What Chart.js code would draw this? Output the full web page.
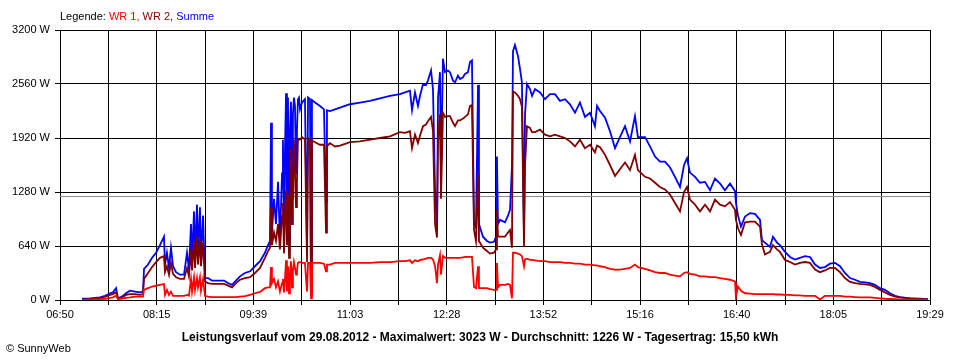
<!DOCTYPE html>
<html>
<head>
<meta charset="utf-8">
<title>Leistungsverlauf vom 29.08.2012</title>
<script src="https://cdn.jsdelivr.net/npm/chart.js@4.4.0/dist/chart.umd.min.js"></script>
<style>
  body { margin: 0; background: #fff; }
  #wrap { position: relative; width: 960px; height: 360px; font-family: "Liberation Sans", Arial, sans-serif; font-size: 11px; color: #000; }
  #chart { position: absolute; left: 0; top: 0; }
  .legend { position: absolute; left: 60px; top: 10px; white-space: nowrap; }
  .title { position: absolute; left: 0; width: 960px; top: 330px; text-align: center; font-weight: bold; font-size: 12px; white-space: nowrap; }
  .copy { position: absolute; left: 6px; top: 342px; white-space: nowrap; }
</style>
</head>
<body>
<div id="wrap">
  <canvas id="chart" width="960" height="360"></canvas>
  <div class="legend">Legende: <span style="color:#ff0000">WR 1,</span> <span style="color:#800000">WR 2,</span> <span style="color:#0000ff">Summe</span></div>
  <div class="title">Leistungsverlauf vom 29.08.2012 - Maximalwert: 3023 W - Durchschnitt: 1226 W - Tagesertrag: 15,50 kWh</div>
  <div class="copy">© SunnyWeb</div>
</div>
<script>
// ===== DATA =====
const startMinute = 410;   // 06:50
const endMinute = 1169;    // 19:29
const tickLabels = ["06:50", "08:15", "09:39", "11:03", "12:28", "13:52", "15:16", "16:40", "18:05", "19:29"];
const average = 1226;

// time of day in minutes since midnight
const minutes = [
  429.2, 436.2, 444.9, 449.3, 453.6, 456.2, 458.9, 460.6, 464.1, 467.6,
  471.1, 475.4, 479.8, 482.4, 483.3, 486.8, 490.3, 493.8, 497.2, 500.7,
  501.6, 503.3, 505.1, 506.8, 508.6, 511.2, 514.7, 518.2, 520.8, 522.5,
  524.3, 525.2, 526.9, 527.8, 529.5, 530.4, 532.1, 533.0, 534.8, 536.5,
  539.1, 542.6, 547.8, 553.1, 556.6, 560.1, 563.5, 567.0, 571.4, 575.8,
  580.1, 584.5, 588.8, 591.5, 593.2, 594.1, 594.9, 596.7, 598.4, 600.2,
  601.9, 603.7, 604.5, 605.4, 606.3, 607.2, 608.0, 608.9, 609.8, 610.6, 611.5, 612.4, 613.2,
  614.1, 615.0, 615.9, 616.7, 617.6, 618.5, 619.4, 621.1, 623.7, 625.5, 626.4, 628.1, 629.0,
  629.8, 632.5, 636.8, 640.3, 642.1, 642.9, 645.5, 649.9, 654.3, 658.6,
  663.0, 671.7, 680.4, 689.2, 697.9, 706.6, 711.0, 715.3, 717.1, 719.7,
  722.3, 724.1, 726.7, 729.3, 731.0, 733.7, 735.4, 737.2, 738.9, 739.8,
  741.5, 742.4, 744.1, 745.9, 748.5, 750.2, 752.9, 754.6, 757.2, 759.0,
  761.6, 763.3, 765.9, 767.7, 769.4, 771.2, 772.9, 774.7, 775.5, 779.0,
  782.5, 785.1, 788.6, 790.4, 791.2, 792.1, 793.9, 798.2, 800.8, 802.6,
  804.3, 805.2, 806.9, 809.6, 811.3, 813.0, 814.8, 815.7, 817.4, 820.0,
  821.8, 824.4, 828.8, 833.1, 837.5, 841.8, 846.2, 850.6, 854.9, 859.3,
  863.6, 868.0, 872.4, 876.7, 878.5, 881.1, 885.5, 889.8, 894.2, 898.5,
  902.9, 907.3, 911.6, 914.2, 920.4, 924.7, 929.1, 933.4, 937.8, 942.2,
  946.5, 950.9, 954.4, 957.0, 959.6, 964.0, 968.3, 972.7, 977.1, 981.4,
  985.8, 990.1, 994.5, 998.9, 999.7, 1001.5, 1004.1, 1007.6, 1012.0, 1016.3,
  1020.7, 1022.4, 1025.0, 1029.4, 1032.0, 1035.5, 1038.1, 1042.5, 1046.9, 1051.2,
  1055.6, 1059.9, 1064.3, 1068.7, 1073.0, 1077.4, 1081.7, 1086.1, 1090.5, 1094.8,
  1099.2, 1103.6, 1107.9, 1112.3, 1116.6, 1121.0, 1125.4, 1129.7, 1134.1, 1138.5,
  1142.8, 1151.5, 1160.3, 1167.2
];

// Summe (W)
const summe = [
  15, 20, 30, 50, 80, 90, 140, 20, 40, 80,
  110, 100, 90, 100, 370, 420, 500, 560, 650, 750,
  420, 560, 380, 620, 400, 330, 300, 300, 560, 360,
  900, 450, 1050, 500, 1130, 550, 1100, 500, 1000, 260,
  260, 230, 230, 230, 200, 180, 230, 280, 320, 340,
  400, 460, 560, 650, 700, 2100, 800, 1200, 900, 1400,
  700, 1500, 1900, 700, 1800, 2450, 800, 2400, 600, 2000, 2350, 1200, 2200,
  2400, 2300, 1500, 2000, 2380, 2400, 2260, 2340, 2380, 600, 2400, 2380, 100,
  2370, 2340, 2300, 2260, 1160, 2250, 2240, 2260, 2280, 2300,
  2320, 2340, 2360, 2390, 2420, 2440, 2460, 2480, 2250, 2460,
  2300, 2420, 2560, 2550, 2600, 2720, 2500, 1300, 870, 2400,
  2700, 1500, 2860, 2700, 2720, 2700, 2600, 2580, 2660, 2620,
  2640, 2680, 2700, 2820, 2840, 920, 860, 2550, 900, 750,
  700, 680, 690, 750, 1700, 900, 950, 920, 1000, 1070,
  1580, 2950, 3023, 2890, 2740, 2580, 750, 2200, 2560, 2500,
  2420, 2500, 2460, 2380, 2440, 2440, 2360, 2380, 2320, 2220,
  2340, 2170, 2220, 2060, 2300, 2240, 2160, 2000, 1800, 1930,
  2060, 1880, 2180, 1930, 1930, 1820, 1700, 1640, 1640, 1570,
  1460, 1340, 1600, 1680, 1510, 1460, 1390, 1400, 1300, 1440,
  1380, 1300, 1380, 1290, 1150, 1000, 870, 990, 1030, 1020,
  950, 710, 680, 630, 750, 680, 650, 570, 510, 480,
  500, 520, 510, 420, 380, 390, 430, 440, 400, 320,
  260, 240, 215, 210, 200, 180, 140, 120, 80, 50,
  35, 20, 15, 10
];

// WR 2 (W)
const wr2 = [
  5, 10, 20, 40, 60, 70, 90, 15, 30, 60,
  70, 70, 60, 70, 250, 320, 390, 450, 500, 520,
  330, 400, 300, 440, 310, 270, 250, 250, 380, 280,
  600, 350, 700, 380, 760, 420, 720, 400, 680, 220,
  200, 190, 190, 190, 170, 150, 200, 240, 260, 270,
  320, 380, 500, 580, 620, 1100, 650, 800, 700, 900,
  600, 1000, 1150, 550, 1000, 1300, 650, 1250, 500, 1100, 1800, 900, 1300,
  1900, 1500, 1100, 1400, 1900, 1900, 1900, 1930, 1900, 450, 1920, 1900, 70,
  1890, 1870, 1840, 1840, 800, 1820, 1860, 1820, 1830, 1850,
  1870, 1880, 1900, 1920, 1940, 1990, 1980, 2000, 1800, 1960,
  1860, 1950, 2060, 2080, 2120, 2170, 2000, 900, 740, 1900,
  2200, 1200, 2220, 2170, 2180, 2180, 2100, 2060, 2130, 2130,
  2150, 2170, 2200, 2300, 2310, 830, 700, 1500, 700, 620,
  580, 550, 560, 600, 1080, 750, 750, 750, 800, 830,
  620, 2470, 2460, 2420, 2380, 2290, 630, 1600, 2060, 2040,
  1990, 1990, 2020, 1960, 1940, 1960, 1940, 1920, 1880, 1820,
  1900, 1800, 1840, 1750, 1830, 1810, 1720, 1600, 1470, 1550,
  1630, 1540, 1720, 1540, 1460, 1440, 1390, 1340, 1310, 1250,
  1150, 1050, 1280, 1340, 1190, 1130, 1050, 1130, 1050, 1190,
  1130, 1110, 1160, 1070, 950, 850, 770, 920, 930, 930,
  870, 660, 540, 570, 650, 600, 570, 475, 450, 420,
  440, 450, 440, 360, 330, 350, 380, 380, 330, 260,
  215, 200, 190, 185, 180, 155, 120, 90, 60, 40,
  30, 20, 12, 8
];

// WR 1 (W)
const wr1 = [
  0, 5, 10, 15, 25, 30, 50, 10, 15, 25,
  30, 40, 40, 40, 120, 140, 160, 170, 180, 190,
  60, 120, 60, 100, 50, 50, 50, 50, 60, 50,
  250, 100, 270, 120, 260, 150, 270, 110, 250, 50,
  40, 35, 35, 35, 35, 35, 35, 40, 45, 60,
  80, 95, 140, 150, 150, 390, 200, 250, 150, 220,
  100, 200, 250, 90, 250, 470, 100, 400, 80, 300, 460, 150, 350,
  450, 380, 300, 350, 440, 450, 450, 440, 440, 100, 440, 440, 20,
  440, 440, 440, 430, 340, 420, 420, 440, 440, 440,
  440, 440, 440, 450, 450, 460, 460, 470, 440, 470,
  460, 475, 480, 490, 500, 500, 480, 400, 200, 420,
  530, 300, 520, 500, 500, 500, 500, 500, 500, 500,
  505, 510, 510, 510, 510, 155, 140, 400, 140, 140,
  140, 130, 120, 120, 440, 150, 180, 180, 190, 180,
  20, 560, 560, 550, 540, 520, 400, 480, 490, 475,
  475, 470, 460, 460, 450, 450, 450, 440, 440, 430,
  430, 420, 420, 410, 410, 400, 390, 370, 360, 360,
  370, 380, 420, 390, 370, 350, 330, 320, 320, 300,
  290, 280, 320, 330, 310, 300, 280, 280, 270, 270,
  260, 250, 240, 220, 40, 160, 110, 80, 75, 70,
  70, 70, 70, 70, 70, 65, 65, 60, 60, 55,
  55, 50, 50, 50, 5, 50, 50, 50, 50, 40,
  40, 35, 30, 30, 30, 25, 20, 15, 12, 10,
  8, 5, 3, 2
];

// ===== CHART =====
const points = arr => minutes.map((m, i) => ({ x: m, y: arr[i] }));
const gridStep = (endMinute - startMinute) / 18;
const gridMinutes = [];
for (let i = 0; i <= 18; i++) gridMinutes.push(startMinute + i * gridStep);

Chart.defaults.font.family = "'Liberation Sans', Arial, sans-serif";
Chart.defaults.font.size = 11;
Chart.defaults.color = "#000";

new Chart(document.getElementById("chart"), {
  type: "line",
  data: {
    datasets: [
      { label: "WR 1", data: points(wr1), borderColor: "#ff0000", order: 1 },
      { label: "WR 2", data: points(wr2), borderColor: "#800000", order: 2 },
      { label: "Summe", data: points(summe), borderColor: "#0000ff", order: 3 },
      { label: "Durchschnitt", data: [{ x: startMinute, y: average }, { x: endMinute, y: average }], borderColor: "#8c8c8c", borderWidth: 1, order: 4 }
    ]
  },
  options: {
    responsive: false,
    animation: false,
    devicePixelRatio: 1,
    layout: { padding: { top: 30, right: 30, left: 0, bottom: 0 } },
    plugins: { legend: { display: false }, tooltip: { enabled: false } },
    elements: { point: { radius: 0 }, line: { borderWidth: 1.8, tension: 0 } },
    scales: {
      x: {
        type: "linear",
        min: startMinute,
        max: endMinute,
        afterBuildTicks: s => { s.ticks = gridMinutes.map(v => ({ value: v })); },
        afterFit: s => { s.height = 60; },
        ticks: {
          autoSkip: false,
          maxRotation: 0,
          padding: 3,
          callback: (v, i) => (i % 2 === 0 ? tickLabels[i / 2] : "")
        },
        grid: { color: "#000", tickColor: "#000", tickLength: 5 },
        border: { color: "#000" }
      },
      y: {
        min: 0,
        max: 3200,
        afterFit: s => { s.width = 60; },
        ticks: { stepSize: 640, padding: 5, callback: v => v + " W" },
        grid: { color: "#000", tickColor: "#000", tickLength: 5 },
        border: { color: "#000" }
      }
    }
  }
});
</script>
</body>
</html>
